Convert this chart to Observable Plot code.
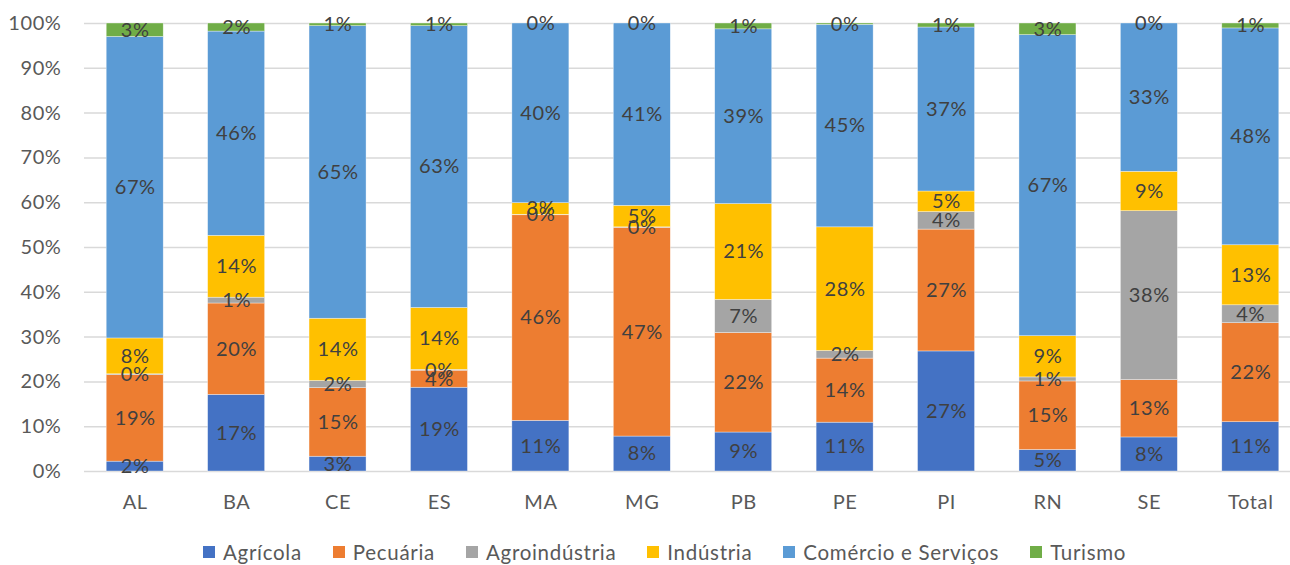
<!DOCTYPE html>
<html>
<head>
<meta charset="utf-8">
<script src="https://cdn.jsdelivr.net/npm/d3@7"></script>
<script src="https://cdn.jsdelivr.net/npm/@observablehq/plot@0.6"></script>
<style>
  html, body { margin: 0; padding: 0; background: #fff; }
  #chart { width: 1290px; height: 565px; overflow: hidden; font-family: Lato, sans-serif; }
  #chart svg text { letter-spacing: 0.6px; }
  .legend { display: flex; align-items: center; height: 35px; padding-left: 203px; gap: 31px; margin-top: 4px; }
  .legend .item { display: flex; align-items: center; font-size: 20.5px; color: #595959; letter-spacing: 0.7px; }
  .legend .sw { width: 12px; height: 12px; margin-right: 8px; }
</style>
</head>
<body>
<div id="chart"></div>
<script>
// States (and overall total) along the x axis
const categories = ["AL", "BA", "CE", "ES", "MA", "MG", "PB", "PE", "PI", "RN", "SE", "Total"];

// Activity sectors, bottom to top of each stack
const series = ["Agrícola", "Pecuária", "Agroindústria", "Indústria", "Comércio e Serviços", "Turismo"];
const colors = ["#4472C4", "#ED7D31", "#A5A5A5", "#FFC000", "#5B9BD5", "#70AD47"];

// Share of each sector per state (%)
const agricola      = [2.2, 17.1, 3.3, 18.7, 11.3, 7.8, 8.7, 10.9, 26.8, 4.8, 7.6, 11.0];
const pecuaria      = [19.3, 20.4, 15.3, 3.8, 45.9, 46.6, 22.2, 14.3, 27.2, 15.3, 12.8, 22.1];
const agroindustria = [0.2, 1.3, 1.6, 0.2, 0.1, 0.1, 7.4, 1.7, 3.9, 0.9, 37.7, 4.0];
const industria     = [8.0, 13.8, 13.9, 13.8, 2.6, 4.8, 21.4, 27.6, 4.6, 9.2, 8.8, 13.4];
const comercio      = [67.3, 45.6, 65.3, 62.9, 40.1, 40.7, 39.0, 45.2, 36.6, 67.2, 33.1, 48.4];
const turismo       = [3.0, 1.8, 0.6, 0.6, 0.0, 0.0, 1.3, 0.3, 0.9, 2.6, 0.0, 1.1];

const yTicks = [0, 10, 20, 30, 40, 50, 60, 70, 80, 90, 100];

const valuesBySeries = [agricola, pecuaria, agroindustria, industria, comercio, turismo];
const rows = [];
series.forEach((s, i) => {
  categories.forEach((c, j) => {
    rows.push({state: c, sector: s, value: valuesBySeries[i][j]});
  });
});

const W = 1290, H = 530;
const font = "Lato, sans-serif";

const plot = Plot.plot({
  width: W,
  height: H,
  marginLeft: 84,
  marginRight: 0,
  marginTop: 23,
  marginBottom: 59,
  style: {fontFamily: font, fontSize: "20px", color: "#595959", background: "#fff"},
  x: {domain: categories, range: [84, 1301], paddingInner: 0.438, paddingOuter: 0.219, round: false, label: null},
  y: {domain: [0, 100], label: null},
  color: {domain: series, range: colors},
  marks: [
    Plot.ruleY(yTicks, {stroke: "#D9D9D9", strokeWidth: 1.5}),
    Plot.barY(rows, Plot.stackY({
      x: "state", y: "value", z: "sector", fill: "sector",
      stroke: "#ffffff", strokeWidth: 0.6, strokeOpacity: 0.6
    })),
    Plot.text(rows, Plot.stackY({
      x: "state", y: "value", z: "sector",
      text: d => Math.round(d.value) + "%",
      fill: "#404040", fontSize: 20, fontFamily: font
    })),
    Plot.axisY({ticks: yTicks, tickFormat: d => d + "%", tickSize: 0, tickPadding: 23, fontSize: 20, fill: "#595959", label: null}),
    Plot.axisX({tickSize: 0, tickPadding: 23, fontSize: 20, fill: "#595959", label: null})
  ]
});

const root = document.getElementById("chart");
root.appendChild(plot);

// Legend row beneath the chart
const legend = document.createElement("div");
legend.className = "legend";
series.forEach((s, i) => {
  const item = document.createElement("div");
  item.className = "item";
  const sw = document.createElement("span");
  sw.className = "sw";
  sw.style.background = colors[i];
  const label = document.createElement("span");
  label.textContent = s;
  item.appendChild(sw);
  item.appendChild(label);
  legend.appendChild(item);
});
root.appendChild(legend);
</script>
</body>
</html>
